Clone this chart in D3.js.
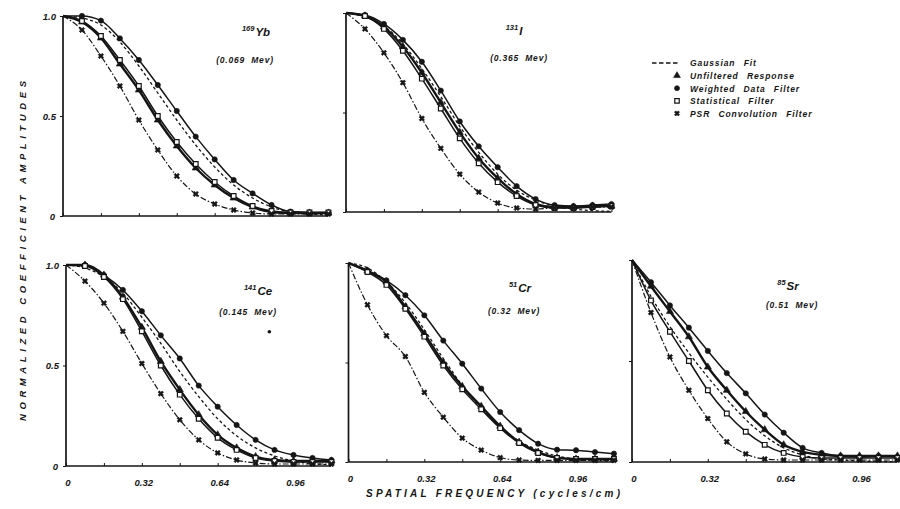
<!DOCTYPE html>
<html><head><meta charset="utf-8">
<script src="https://cdn.jsdelivr.net/npm/d3@7"></script>
<style>
body{margin:0;background:#fff}
svg{display:block}
text{font-family:"Liberation Sans",Arial,sans-serif;font-weight:bold;font-style:italic;fill:#151515}
</style>
</head><body>
<svg id="c" width="900" height="509"></svg>
<script>
// ---------------- DATA ----------------
const freq = [0, 0.08, 0.16, 0.24, 0.32, 0.40, 0.48, 0.56, 0.64, 0.72, 0.80, 0.88, 0.96, 1.04, 1.12];
const xTickValues = [0, 0.32, 0.64, 0.96];
const xTickLabels = ["0", "0.32", "0.64", "0.96"];
const yTickValues = [0, 0.5, 1.0];
const yTickLabels = ["0", "0.5", "1.0"];
const seriesNames = ["Gaussian Fit", "Unfiltered Response", "Weighted Data Filter", "Statistical Filter", "PSR Convolution Filter"];
const massNumbers = ["169", "131", "141", "51", "85"];
const elements = ["Yb", "I", "Ce", "Cr", "Sr"];
const energies = ["(0.069 Mev)", "(0.365 Mev)", "(0.145 Mev)", "(0.32 Mev)", "(0.51 Mev)"];

// 169Yb
const yb_gauss    = [1.0, 0.99, 0.955, 0.87, 0.75, 0.615, 0.48, 0.355, 0.245, 0.155, 0.09, 0.045, 0.02, 0.01, 0.005];
const yb_unfilt   = [1.0, 0.97, 0.89, 0.76, 0.63, 0.48, 0.35, 0.24, 0.155, 0.09, 0.045, 0.02, 0.015, 0.015, 0.015];
const yb_weighted = [1.0, 1.0, 0.977, 0.888, 0.78, 0.655, 0.525, 0.397, 0.283, 0.18, 0.113, 0.055, 0.022, 0.018, 0.018];
const yb_stat     = [1.0, 0.975, 0.90, 0.78, 0.65, 0.50, 0.37, 0.26, 0.17, 0.10, 0.05, 0.025, 0.018, 0.018, 0.018];
const yb_psr      = [1.0, 0.93, 0.80, 0.65, 0.48, 0.33, 0.20, 0.11, 0.06, 0.03, 0.015, 0.01, 0.01, 0.01, 0.01];
// 131I
const i_gauss    = [1.0, 0.98, 0.935, 0.845, 0.72, 0.58, 0.43, 0.30, 0.19, 0.11, 0.06, 0.03, 0.015, 0.007, 0.003];
const i_unfilt   = [1.0, 0.985, 0.93, 0.83, 0.70, 0.55, 0.40, 0.27, 0.17, 0.09, 0.04, 0.025, 0.025, 0.03, 0.03];
const i_weighted = [1.0, 0.99, 0.945, 0.865, 0.755, 0.61, 0.455, 0.33, 0.225, 0.13, 0.065, 0.035, 0.03, 0.035, 0.04];
const i_stat     = [1.0, 0.985, 0.92, 0.81, 0.67, 0.52, 0.37, 0.245, 0.15, 0.08, 0.035, 0.02, 0.02, 0.025, 0.03];
const i_psr      = [1.0, 0.92, 0.80, 0.65, 0.47, 0.32, 0.19, 0.10, 0.045, 0.02, 0.015, 0.02, 0.02, 0.025, 0.025];
// 141Ce
const ce_gauss    = [1.0, 0.985, 0.94, 0.86, 0.74, 0.61, 0.47, 0.345, 0.235, 0.15, 0.09, 0.05, 0.025, 0.012, 0.006];
const ce_unfilt   = [1.0, 1.0, 0.95, 0.84, 0.69, 0.52, 0.38, 0.255, 0.155, 0.09, 0.047, 0.03, 0.025, 0.025, 0.025];
const ce_weighted = [1.0, 1.0, 0.95, 0.876, 0.77, 0.65, 0.535, 0.40, 0.295, 0.204, 0.13, 0.08, 0.055, 0.04, 0.03];
const ce_stat     = [1.0, 0.995, 0.94, 0.83, 0.67, 0.50, 0.355, 0.235, 0.14, 0.08, 0.04, 0.025, 0.02, 0.02, 0.02];
const ce_psr      = [1.0, 0.92, 0.81, 0.67, 0.51, 0.36, 0.23, 0.13, 0.065, 0.03, 0.015, 0.01, 0.01, 0.01, 0.01];
const ce_stray    = [0.858, 0.668];
// 51Cr
const cr_gauss    = [1.0, 0.975, 0.905, 0.80, 0.665, 0.52, 0.385, 0.27, 0.175, 0.105, 0.06, 0.03, 0.015, 0.007, 0.003];
const cr_unfilt   = [1.0, 0.96, 0.905, 0.78, 0.645, 0.50, 0.38, 0.28, 0.18, 0.10, 0.05, 0.022, 0.015, 0.015, 0.015];
const cr_weighted = [1.0, 0.963, 0.913, 0.838, 0.737, 0.61, 0.494, 0.369, 0.251, 0.16, 0.092, 0.062, 0.059, 0.05, 0.042];
const cr_stat     = [1.0, 0.955, 0.89, 0.77, 0.63, 0.485, 0.365, 0.265, 0.17, 0.095, 0.045, 0.02, 0.015, 0.015, 0.015];
const cr_psr      = [1.0, 0.79, 0.635, 0.53, 0.35, 0.225, 0.12, 0.06, 0.022, 0.01, 0.008, 0.008, 0.008, 0.008, 0.008];
// 85Sr
const sr_gauss    = [1.0, 0.82, 0.67, 0.54, 0.42, 0.31, 0.21, 0.13, 0.07, 0.035, 0.015, 0.01, 0.005, 0.003, 0.002];
const sr_unfilt   = [1.0, 0.87, 0.745, 0.62, 0.47, 0.355, 0.25, 0.16, 0.085, 0.05, 0.035, 0.03, 0.03, 0.03, 0.03];
const sr_weighted = [1.0, 0.89, 0.775, 0.665, 0.55, 0.44, 0.34, 0.235, 0.145, 0.07, 0.045, 0.03, 0.025, 0.03, 0.025];
const sr_stat     = [1.0, 0.80, 0.645, 0.50, 0.355, 0.24, 0.15, 0.085, 0.045, 0.025, 0.02, 0.02, 0.02, 0.02, 0.02];
const sr_psr      = [1.0, 0.74, 0.52, 0.355, 0.215, 0.10, 0.04, 0.015, 0.01, 0.01, 0.01, 0.01, 0.01, 0.01, 0.01];

// ---------------- LAYOUT ----------------
const panelSeries = [
  [yb_gauss, yb_unfilt, yb_weighted, yb_stat, yb_psr],
  [i_gauss, i_unfilt, i_weighted, i_stat, i_psr],
  [ce_gauss, ce_unfilt, ce_weighted, ce_stat, ce_psr],
  [cr_gauss, cr_unfilt, cr_weighted, cr_stat, cr_psr],
  [sr_gauss, sr_unfilt, sr_weighted, sr_stat, sr_psr]
];
const PXU = 237;
const layout = [
  {x0: 63,  yTop: 16,  yBot: 216, yLab: true,  xLab: false, tx: 256, ty: 36, ex: 245, ey: 63},
  {x0: 346, yTop: 13,  yBot: 212, yLab: false, xLab: false, tx: 514, ty: 35, ex: 519, ey: 61},
  {x0: 66,  yTop: 265, yBot: 466, yLab: true,  xLab: true,  tx: 258, ty: 295, ex: 248, ey: 315},
  {x0: 348.5, yTop: 263, yBot: 462, yLab: false, xLab: true, tx: 520, ty: 292, ex: 514, ey: 314},
  {x0: 632, yTop: 260, yBot: 462, yLab: false, xLab: true,  tx: 788, ty: 290, ex: 792, ey: 308}
];

const styles = [
  {w: 1.3, dash: "3,2.5", sym: null},
  {w: 2.4, dash: null, sym: d3.symbolTriangle},
  {w: 1.5, dash: null, sym: d3.symbolCircle},
  {w: 1.5, dash: null, sym: d3.symbolSquare, open: true},
  {w: 1.2, dash: "6,2,1.5,2", sym: d3.symbolCross, x: true}
];

const svg = d3.select("#c");
const ink = "#151515";

layout.forEach((L, pi) => {
  const x = d3.scaleLinear().domain([0, 1.12]).range([L.x0, L.x0 + 1.12 * PXU]);
  const y = d3.scaleLinear().domain([0, 1]).range([L.yBot, L.yTop]);
  const g = svg.append("g");

  // axes
  g.append("line").attr("x1", x(0)).attr("x2", x(0)).attr("y1", y(0)).attr("y2", y(1))
    .attr("stroke", ink).attr("stroke-width", 1.7);
  g.append("line").attr("x1", x(0)).attr("x2", x(1.12)).attr("y1", y(0)).attr("y2", y(0))
    .attr("stroke", ink).attr("stroke-width", 1.7);
  const xAx = d3.axisBottom(x).tickValues(d3.range(0, 1.13, 0.16)).tickSize(-3).tickFormat("");
  g.append("g").attr("transform", `translate(0,${y(0)})`).call(xAx)
    .call(s => s.select(".domain").remove())
    .call(s => s.selectAll("line").attr("stroke", ink).attr("stroke-width", 1));
  const yAx = d3.axisLeft(y).tickValues(yTickValues).tickSize(3).tickFormat("");
  g.append("g").attr("transform", `translate(${x(0)},0)`).call(yAx)
    .call(s => s.select(".domain").remove())
    .call(s => s.selectAll("line").attr("stroke", ink).attr("stroke-width", 1));

  if (L.yLab) {
    yTickValues.forEach((v, i) => {
      g.append("text").attr("x", x(0) - (i === 0 ? 8 : 7)).attr("y", y(v) + 3.5)
        .attr("text-anchor", "end").attr("font-size", 9.5).text(yTickLabels[i]);
    });
  }
  if (L.xLab) {
    xTickValues.forEach((v, i) => {
      g.append("text").attr("x", x(v) + 2).attr("y", y(0) + 20)
        .attr("text-anchor", "middle").attr("font-size", 9.5).text(xTickLabels[i]);
    });
  }

  // curves
  const line = d3.line().x((d, i) => x(freq[i])).y(d => y(d)).curve(d3.curveMonotoneX);
  panelSeries[pi].forEach((vals, si) => {
    const st = styles[si];
    g.append("path").attr("d", line(vals)).attr("fill", "none").attr("stroke", ink)
      .attr("stroke-width", st.w).attr("stroke-dasharray", st.dash);
    if (st.sym) {
      g.selectAll(null).data(vals.slice(1)).join("path")
        .attr("transform", (d, i) => `translate(${x(freq[i + 1])},${y(d)})${st.x ? " rotate(45)" : ""}`)
        .attr("d", d3.symbol().type(st.sym).size(st.x ? 18 : 22))
        .attr("fill", st.open ? "#fff" : ink)
        .attr("stroke", ink).attr("stroke-width", st.open ? 1.2 : 0.6);
    }
  });

  if (pi === 2) {
    g.append("circle").attr("cx", x(ce_stray[0])).attr("cy", y(ce_stray[1])).attr("r", 1.8).attr("fill", ink);
  }

  // titles
  const t = g.append("text").attr("x", L.tx).attr("y", L.ty).attr("text-anchor", "middle").attr("font-size", 11.5);
  t.append("tspan").attr("font-size", 7.5).attr("dy", -5).text(massNumbers[pi]);
  t.append("tspan").attr("dy", 5).attr("dx", 1).text(elements[pi]);
  g.append("text").attr("x", L.ex).attr("y", L.ey).attr("text-anchor", "middle")
    .attr("font-size", 8.5).attr("letter-spacing", 0.8).attr("word-spacing", 3).text(energies[pi]);
});

// legend
const legX = 652, legY0 = 63, legDY = 12.6;
seriesNames.forEach((name, i) => {
  const yy = legY0 + i * legDY;
  const st = styles[i];
  if (i === 0) {
    svg.append("line").attr("x1", legX).attr("x2", legX + 26).attr("y1", yy).attr("y2", yy)
      .attr("stroke", ink).attr("stroke-width", 1.6).attr("stroke-dasharray", "4.5,2.5");
  } else {
    svg.append("path").attr("transform", `translate(${legX + 25},${yy})${st.x ? " rotate(45)" : ""}`)
      .attr("d", d3.symbol().type(st.sym).size(st.x ? 16 : 20))
      .attr("fill", st.open ? "#fff" : ink).attr("stroke", ink).attr("stroke-width", st.open ? 1.2 : 0.6);
  }
  svg.append("text").attr("x", legX + 38).attr("y", yy + 3.3).attr("font-size", 8.5)
    .attr("letter-spacing", 0.9).attr("word-spacing", 5).text(name);
});

// axis titles
svg.append("text").attr("x", 366).attr("y", 497).attr("font-size", 10)
  .attr("textLength", 254).attr("lengthAdjust", "spacing")
  .text("SPATIAL  FREQUENCY (cycles/cm)");
svg.append("text").attr("transform", "translate(26,421) rotate(-90)").attr("font-size", 9.5)
  .attr("textLength", 340).attr("lengthAdjust", "spacing")
  .text("NORMALIZED  COEFFICIENT  AMPLITUDES");
</script>
</body></html>
